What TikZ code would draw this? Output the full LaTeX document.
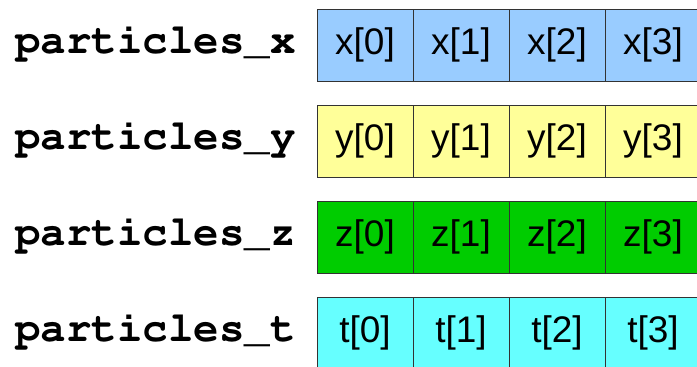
\documentclass[tikz,border=0pt]{standalone}
\usepackage[T1]{fontenc}
\usepackage{fontspec}
\setmainfont{Liberation Sans}
\newcommand{\codefont}{\fontencoding{T1}\fontfamily{pcr}\fontseries{b}\selectfont}
\usepackage{tikz}
\usetikzlibrary{positioning}

\definecolor{xblue}{HTML}{99CCFF}
\definecolor{yyellow}{HTML}{FFFF99}
\definecolor{zgreen}{HTML}{00CC00}
\definecolor{tcyan}{HTML}{66FFFF}

\begin{document}
\begin{tikzpicture}[
        node distance=24pt and 0pt,
        cell/.style={rectangle, draw=black!80, line width=1pt, minimum width=96pt, minimum height=72pt, inner sep=0pt, outer sep=0pt, font=\fontsize{37}{40}\selectfont},
        arr/.style={font=\codefont\fontsize{42.5}{46}\selectfont, inner sep=0pt, anchor=base east, yshift=-8pt}
    ]
    \useasboundingbox (0,0) rectangle (697pt,-367pt);

    % Arrays
    \node[cell, fill=xblue] (x0) at (365pt,-45pt) {x[0]};
    \node[cell, fill=xblue, right=of x0] (x1) {x[1]};
    \node[cell, fill=xblue, right=of x1] (x2) {x[2]};
    \node[cell, fill=xblue, right=of x2] (x3) {x[3]};

    \node[cell, fill=yyellow, below=of x0] (y0) {y[0]};
    \node[cell, fill=yyellow, right=of y0] (y1) {y[1]};
    \node[cell, fill=yyellow, right=of y1] (y2) {y[2]};
    \node[cell, fill=yyellow, right=of y2] (y3) {y[3]};

    \node[cell, fill=zgreen, below=of y0] (z0) {z[0]};
    \node[cell, fill=zgreen, right=of z0] (z1) {z[1]};
    \node[cell, fill=zgreen, right=of z1] (z2) {z[2]};
    \node[cell, fill=zgreen, right=of z2] (z3) {z[3]};

    \node[cell, fill=tcyan, below=of z0] (t0) {t[0]};
    \node[cell, fill=tcyan, right=of t0] (t1) {t[1]};
    \node[cell, fill=tcyan, right=of t1] (t2) {t[2]};
    \node[cell, fill=tcyan, right=of t2] (t3) {t[3]};

    % Names
    \node[left=21pt of x0, arr] (px) {particles\_x};
    \node[left=21pt of y0, arr] (py) {particles\_y};
    \node[left=21pt of z0, arr] (pz) {particles\_z};
    \node[left=21pt of t0, arr] (pt) {particles\_t};

\end{tikzpicture}
\end{document}
